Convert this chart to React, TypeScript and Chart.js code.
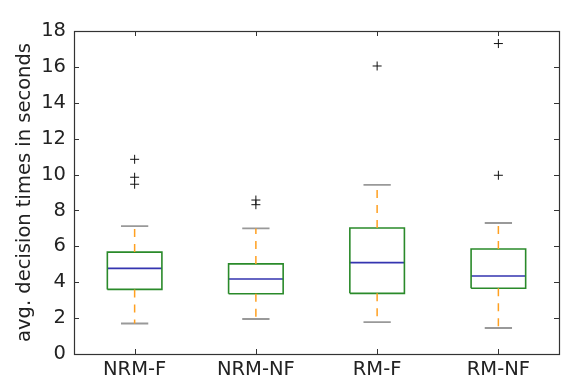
import React, { useEffect, useRef } from "react";
import { Chart, registerables } from "chart.js";

Chart.register(...registerables);

const CATEGORIES = ["NRM-F", "NRM-NF", "RM-F", "RM-NF"];
const WHISKER_LOW = [1.7, 1.95, 1.78, 1.45];
const Q1 = [3.6, 3.36, 3.38, 3.66];
const MEDIAN = [4.77, 4.18, 5.09, 4.35];
const Q3 = [5.68, 5.02, 7.02, 5.85];
const WHISKER_HIGH = [7.13, 7.0, 9.42, 7.3];
const OUTLIERS = [
  [10.85, 9.85, 9.46],
  [8.58, 8.32],
  [16.05],
  [17.3, 9.96],
];
const Y_TICKS = [0, 2, 4, 6, 8, 10, 12, 14, 16, 18];

const BOX_W = 0.45;
const CAP_W = 0.225;

type P = { x: number; y: number | null };

function boxOutline(): P[] {
  const pts: P[] = [];
  CATEGORIES.forEach((_, i) => {
    const x = i + 1;
    const h = BOX_W / 2;
    pts.push({ x: x - h, y: Q1[i] }, { x: x + h, y: Q1[i] }, { x: x + h, y: Q3[i] }, { x: x - h, y: Q3[i] }, { x: x - h, y: Q1[i] });
    pts.push({ x: x, y: null });
  });
  return pts;
}

function medians(): P[] {
  const pts: P[] = [];
  CATEGORIES.forEach((_, i) => {
    const x = i + 1;
    const h = BOX_W / 2;
    pts.push({ x: x - h, y: MEDIAN[i] }, { x: x + h, y: MEDIAN[i] }, { x, y: null });
  });
  return pts;
}

function whiskers(): P[] {
  const pts: P[] = [];
  CATEGORIES.forEach((_, i) => {
    const x = i + 1;
    pts.push({ x, y: Q3[i] }, { x, y: WHISKER_HIGH[i] }, { x, y: null });
    pts.push({ x, y: Q1[i] }, { x, y: WHISKER_LOW[i] }, { x, y: null });
  });
  return pts;
}

function caps(): P[] {
  const pts: P[] = [];
  CATEGORIES.forEach((_, i) => {
    const x = i + 1;
    const h = CAP_W / 2;
    pts.push({ x: x - h, y: WHISKER_HIGH[i] }, { x: x + h, y: WHISKER_HIGH[i] }, { x, y: null });
    pts.push({ x: x - h, y: WHISKER_LOW[i] }, { x: x + h, y: WHISKER_LOW[i] }, { x, y: null });
  });
  return pts;
}

function fliers(): P[] {
  const pts: P[] = [];
  OUTLIERS.forEach((arr, i) => arr.forEach((v) => pts.push({ x: i + 1, y: v })));
  return pts;
}

const framePlugin = {
  id: "frameTicks",
  afterDraw(chart: any) {
    const { ctx, chartArea: a, scales } = chart;
    const L = 5;
    ctx.save();
    ctx.strokeStyle = "#333";
    ctx.lineWidth = 1;
    ctx.beginPath();
    scales.x.ticks.forEach((t: any) => {
      const px = Math.round(scales.x.getPixelForValue(t.value)) + 0.5;
      ctx.moveTo(px, a.bottom);
      ctx.lineTo(px, a.bottom - L);
      ctx.moveTo(px, a.top);
      ctx.lineTo(px, a.top + L);
    });
    scales.y.ticks.forEach((t: any) => {
      const py = Math.round(scales.y.getPixelForValue(t.value)) + 0.5;
      ctx.moveTo(a.left, py);
      ctx.lineTo(a.left + L, py);
      ctx.moveTo(a.right, py);
      ctx.lineTo(a.right - L, py);
    });
    ctx.stroke();
    ctx.strokeStyle = "#333";
    ctx.lineWidth = 1.2;
    ctx.strokeRect(Math.round(a.left) + 0.5, Math.round(a.top) + 0.5, Math.round(a.right - a.left), Math.round(a.bottom - a.top));
    ctx.restore();
  },
};

export default function App() {
  const ref = useRef<HTMLCanvasElement>(null);
  useEffect(() => {
    const font = { family: "DejaVu Sans", size: 19.5 };
    const chart = new Chart(ref.current!, {
      type: "scatter",
      data: {
        datasets: [
          { data: whiskers(), showLine: true, borderColor: "#ffa020", borderWidth: 1.5, borderDash: [8, 7], pointRadius: 0 },
          { data: caps(), showLine: true, borderColor: "#999999", borderWidth: 1.8, pointRadius: 0 },
          { data: boxOutline(), showLine: true, borderColor: "#2a8a2a", borderWidth: 1.6, pointRadius: 0 },
          { data: medians(), showLine: true, borderColor: "#3535b0", borderWidth: 1.6, pointRadius: 0 },
          { data: fliers(), showLine: false, pointStyle: "cross", pointRadius: 4.5, borderColor: "#111", borderWidth: 1, backgroundColor: "#111" },
        ] as any,
      },
      options: {
        animation: false,
        responsive: false,
        layout: { padding: { top: 31, right: 25, left: 0, bottom: 0 } },
        plugins: { legend: { display: false }, tooltip: { enabled: false } },
        scales: {
          x: {
            type: "linear",
            min: 0.5,
            max: 4.5,
            afterFit: (s: any) => { s.height = 30; },
            afterBuildTicks: (s: any) => { s.ticks = CATEGORIES.map((_, i) => ({ value: i + 1 })); },
            grid: { display: false, drawTicks: false, tickLength: 0 },
            border: { display: false },
            ticks: { color: "#222", font, padding: 4, maxRotation: 0, autoSkip: false, callback: (v: any) => CATEGORIES[Number(v) - 1] },
          },
          y: {
            min: 0,
            max: 18,
            afterFit: (s: any) => { s.width = 74; },
            afterBuildTicks: (s: any) => { s.ticks = Y_TICKS.map((v) => ({ value: v })); },
            grid: { display: false, drawTicks: false, tickLength: 0 },
            border: { display: false },
            ticks: { color: "#222", font, padding: 8, autoSkip: false },
            title: { display: true, text: "avg. decision times in seconds", color: "#222", font, padding: { top: 13, bottom: 0 } },
          },
        },
      },
      plugins: [framePlugin],
    });
    return () => chart.destroy();
  }, []);
  return (
    <div style={{ position: "fixed", left: 0, top: 0, width: 584, height: 384, background: "#fff" }}>
      <canvas ref={ref} width={584} height={384} style={{ width: 584, height: 384 }} />
    </div>
  );
}
